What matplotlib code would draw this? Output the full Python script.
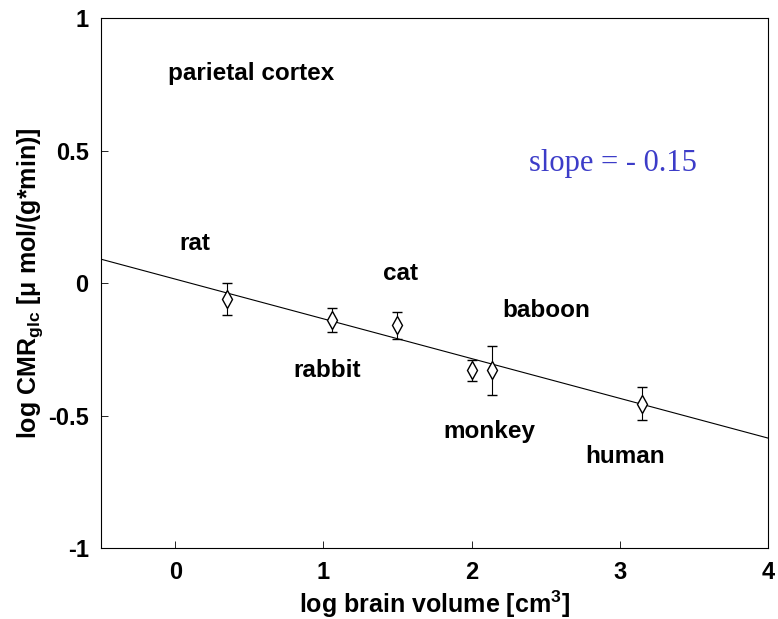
import matplotlib
matplotlib.use("Agg")
import matplotlib.pyplot as plt
import numpy as np

plt.rcParams['font.family'] = ['Liberation Sans', 'DejaVu Sans']
plt.rcParams['font.weight'] = 'bold'
plt.rcParams['mathtext.fontset'] = 'custom'
plt.rcParams['mathtext.rm'] = 'Liberation Sans:bold'
plt.rcParams['mathtext.bf'] = 'Liberation Sans:bold'
plt.rcParams['mathtext.default'] = 'bf'

# Species data: log brain volume vs log glucose metabolic rate
species = ['rat', 'rabbit', 'cat', 'monkey', 'baboon', 'human']
log_volume = [0.35, 1.06, 1.50, 2.00, 2.14, 3.15]
log_cmr = [-0.06, -0.14, -0.16, -0.33, -0.33, -0.455]
cmr_err = [0.06, 0.046, 0.05, 0.038, 0.093, 0.062]

# Label placement (data coordinates)
label_x = [0.03, 0.80, 1.40, 1.81, 2.21, 2.77]
label_y = [0.15, -0.33, 0.035, -0.56, -0.105, -0.655]

# Fitted allometric line
slope = -0.15
intercept = 0.015

fig = plt.figure(figsize=(7.78, 6.19), dpi=100)
ax = fig.add_axes([0.130, 0.1147, 0.857, 0.856])

xfit = np.array([-0.5, 4.0])
ax.plot(xfit, intercept + slope * xfit, color='black', lw=0.8)

ax.errorbar(log_volume, log_cmr, yerr=cmr_err, fmt='d', mfc='white', mec='black',
            ms=9, mew=1.0, ecolor='black', elinewidth=0.8, capsize=3.3, capthick=0.8)

for name, lx, ly in zip(species, label_x, label_y):
    ax.text(lx, ly, name, fontsize=17.5, fontweight='bold', va='center', ha='left')

ax.text(-0.05, 0.79, 'parietal cortex', fontsize=17.5, fontweight='bold', va='center', ha='left')
ax.text(2.39, 0.45, 'slope = - 0.15', fontsize=22, color='#3c3cc8',
        family='Liberation Serif', fontweight='normal', va='center', ha='left')

ax.set_xlim(-0.5, 4)
ax.set_ylim(-1, 1)
ax.set_xticks([0, 1, 2, 3, 4])
ax.set_yticks([-1, -0.5, 0, 0.5, 1])
ax.set_yticklabels(['-1', '-0.5', '0', '0.5', '1'])
ax.tick_params(direction='in', length=5, width=0.6, labelsize=17, pad=9)
for lab in ax.get_xticklabels() + ax.get_yticklabels():
    lab.set_fontweight('bold')
for sp in ax.spines.values():
    sp.set_linewidth(0.8)

ax.set_xlabel('log brain volume [cm$^3$]', fontsize=18, fontweight='bold', labelpad=4)
ax.set_ylabel('log CMR$_{glc}$ [μ mol/(g*min)]', fontsize=18, fontweight='bold', labelpad=2)

fig.savefig('out.png', dpi=100)
